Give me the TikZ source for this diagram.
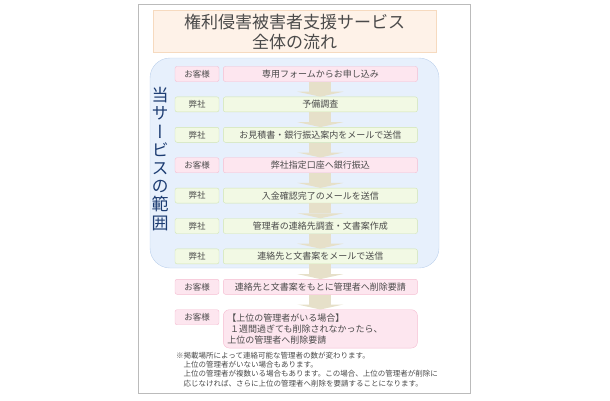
\documentclass[tikz,border=0pt]{standalone}
\usepackage{fontspec}
\setmainfont{Noto Sans CJK JP}
\newfontfamily\vertfont[RawFeature=+vert]{Noto Sans CJK JP}
\usepackage{tikz}
\usetikzlibrary{positioning,arrows.meta}
\usepackage{xcolor}

\definecolor{pinkfill}{HTML}{FDE6EF}
\definecolor{pinkline}{HTML}{F5BDD1}
\definecolor{greenfill}{HTML}{F2F9E4}
\definecolor{greenline}{HTML}{D0E5B3}
\definecolor{bluefill}{HTML}{E7F0FC}
\definecolor{blueline}{HTML}{BDD1EC}
\definecolor{titlefill}{HTML}{FEF2E8}
\definecolor{titleline}{HTML}{F6DABF}
\definecolor{arrowfill}{HTML}{E6E0C9}
\definecolor{framegray}{HTML}{BBBBBB}
\definecolor{textgray}{HTML}{4A4A4A}
\definecolor{labelblue}{HTML}{1C3C72}

\begin{document}
\begin{tikzpicture}[
            x=1pt, y=1pt,
            node distance=15pt and 4pt,
            who/.style={rectangle, rounded corners=2pt, draw, minimum width=44pt, minimum height=15pt, inner sep=0pt, text=textgray, font=\fontsize{8.5}{10}\selectfont},
            task/.style={who, minimum width=194pt, font=\fontsize{9}{11}\selectfont},
            guest/.style={draw=pinkline, fill=pinkfill},
            firm/.style={draw=greenline, fill=greenfill},
            flow/.style={draw=arrowfill, line width=22pt, -{Triangle[length=5pt, width=46pt, line width=0pt]}}
        ]
            \useasboundingbox (0,0) rectangle (610,400);

            % Frame, title and service range
            \node[draw=framegray, minimum width=332pt, minimum height=389pt, inner sep=0pt] (frame) at (304,201.5) {};
            \node[draw=titleline, fill=titlefill, minimum width=283pt, minimum height=41pt, align=center, text=textgray, font=\fontsize{17}{20}\selectfont] (title) at (294.5,368.5) {権利侵害被害者支援サービス\\全体の流れ};
            \node[draw=blueline, fill=bluefill, rounded corners=20pt, minimum width=289pt, minimum height=210pt] (range) at (294.5,237) {};
            \node[align=center, inner sep=0pt, text=labelblue, font=\vertfont\fontsize{17}{18.2}\selectfont] (rangelabel) at (160,241) {当\\サ\\ー\\ビ\\ス\\の\\範\\囲};

            % Nodes
            \node[who, guest] (w1) at (197,326) {お客様};
            \node[task, guest, right=of w1] (t1) {専用フォームからお申し込み};
            \node[who, firm, below=of w1] (w2) {弊社};
            \node[task, firm, right=of w2] (t2) {予備調査};
            \node[who, firm, below=of w2] (w3) {弊社};
            \node[task, firm, right=of w3] (t3) {お見積書・銀行振込案内をメールで送信};
            \node[who, guest, below=of w3] (w4) {お客様};
            \node[task, guest, right=of w4] (t4) {弊社指定口座へ銀行振込};
            \node[who, firm, below=of w4] (w5) {弊社};
            \node[task, firm, right=of w5] (t5) {入金確認完了のメールを送信};
            \node[who, firm, below=of w5] (w6) {弊社};
            \node[task, firm, right=of w6] (t6) {管理者の連絡先調査・文書案作成};
            \node[who, firm, below=of w6] (w7) {弊社};
            \node[task, firm, right=of w7] (t7) {連絡先と文書案をメールで送信};
            \node[who, guest, below=of w7] (w8) {お客様};
            \node[task, guest, right=of w8] (t8) {連絡先と文書案をもとに管理者へ削除要請};
            \node[who, guest, below=of w8] (w9) {お客様};
            \node[task, guest, rounded corners=6pt, minimum height=38pt, text width=186pt, inner sep=4pt, align=left, right=4pt of w9.north east, anchor=north west] (t9) {【上位の管理者がいる場合】\\\hspace{0.3em}１週間過ぎても削除されなかったら、\\上位の管理者へ削除要請};

            % Arrows
            \draw[flow] (t1) -- (t2);
            \draw[flow] (t2) -- (t3);
            \draw[flow] (t3) -- (t4);
            \draw[flow] (t4) -- (t5);
            \draw[flow] (t5) -- (t6);
            \draw[flow] (t6) -- (t7);
            \draw[flow] (t7) -- (t8);
            \draw[flow] (t8.south) -- (t8.south |- t9.north);

            % Note below
            \node[anchor=north west, align=left, inner sep=0pt, text=textgray, font=\fontsize{7.5}{9.2}\selectfont] (note) at (176,48) {※掲載場所によって連絡可能な管理者の数が変わります。\\　上位の管理者がいない場合もあります。\\　上位の管理者が複数いる場合もあります。この場合、上位の管理者が削除に\\　応じなければ、さらに上位の管理者へ削除を要請することになります。};
        \end{tikzpicture}
\end{document}
